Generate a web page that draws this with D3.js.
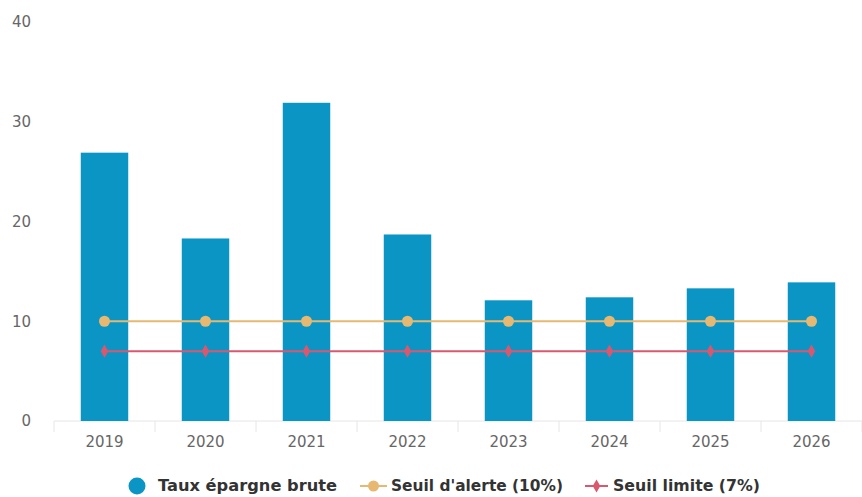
<!DOCTYPE html>
<html><head><meta charset="utf-8">
<script src="https://cdn.jsdelivr.net/npm/d3@7"></script>
<style>body{margin:0;background:#fff;} svg{display:block;}</style>
</head><body>
<svg id="chart" width="862" height="497"></svg>
<script>
const years = ["2019","2020","2021","2022","2023","2024","2025","2026"];
const tauxEpargne = [26.9, 18.3, 31.9, 18.7, 12.1, 12.4, 13.3, 13.9];
const seuilAlerte = [10, 10, 10, 10, 10, 10, 10, 10];
const seuilLimite = [7, 7, 7, 7, 7, 7, 7, 7];
const yTicks = [0, 10, 20, 30, 40];
const seriesNames = ["Taux épargne brute", "Seuil d'alerte (10%)", "Seuil limite (7%)"];
const colors = ["#0b95c5", "#e6b872", "#d9586f"];

const svg = d3.select("#chart");
const x = d3.scaleBand().domain(years).range([54, 862]).paddingInner(0.53).paddingOuter(0.265);
const y = d3.scaleLinear().domain([0, 40]).range([421, 22]);

// y labels
svg.append("g").selectAll("text").data(yTicks).join("text")
  .attr("x", 31).attr("y", d => y(d)).attr("dy", "0.35em")
  .attr("text-anchor", "end")
  .attr("font-family", "DejaVu Sans").attr("font-size", 15).attr("fill", "#666")
  .text(d => d);

// x axis
const step = x.step();
const xAxis = svg.append("g").attr("transform", "translate(0,421)");
xAxis.append("line").attr("x1", 54).attr("x2", 862).attr("stroke", "#e6e6e6").attr("stroke-width", 1);
xAxis.selectAll("line.tick").data(years.concat(["end"])).join("line").attr("class","tick")
  .attr("x1", (d,i) => 54 + i*step).attr("x2", (d,i) => 54 + i*step)
  .attr("y1", 0).attr("y2", 11).attr("stroke", "#e6e6e6");
xAxis.selectAll("text").data(years).join("text")
  .attr("x", d => x(d) + x.bandwidth()/2).attr("y", 21).attr("dy", "0.35em")
  .attr("text-anchor", "middle")
  .attr("font-family", "DejaVu Sans").attr("font-size", 15).attr("fill", "#666")
  .text(d => d);

// bars
svg.append("g").selectAll("rect").data(tauxEpargne).join("rect")
  .attr("x", (d,i) => x(years[i])).attr("width", x.bandwidth())
  .attr("y", d => y(d)).attr("height", d => y(0) - y(d))
  .attr("fill", colors[0]);

const cx = i => x(years[i]) + x.bandwidth()/2;
const line = d3.line().x((d,i) => cx(i)).y(d => y(d));

// alert line
svg.append("path").datum(seuilAlerte).attr("d", line).attr("fill","none")
  .attr("stroke", colors[1]).attr("stroke-width", 2);
svg.append("g").selectAll("circle").data(seuilAlerte).join("circle")
  .attr("cx", (d,i) => cx(i)).attr("cy", d => y(d)).attr("r", 5.5).attr("fill", colors[1]);

// limit line
svg.append("path").datum(seuilLimite).attr("d", line).attr("fill","none")
  .attr("stroke", colors[2]).attr("stroke-width", 2);
const diamond = d3.symbol().type(d3.symbolDiamond).size(50);
svg.append("g").selectAll("path").data(seuilLimite).join("path")
  .attr("transform", (d,i) => `translate(${cx(i)},${y(d)})`)
  .attr("d", diamond).attr("fill", colors[2]);

// legend
const leg = svg.append("g").attr("font-family", "DejaVu Sans").attr("font-weight", "bold")
  .attr("font-size", 15).attr("fill", "#333");
const ly = 486;
leg.append("circle").attr("cx", 137).attr("cy", ly).attr("r", 8.5).attr("fill", colors[0]);
leg.append("text").attr("x", 158).attr("y", ly).attr("dy", "0.35em")
  .attr("textLength", 179).attr("lengthAdjust", "spacingAndGlyphs").text(seriesNames[0]);

leg.append("line").attr("x1", 360).attr("x2", 387).attr("y1", ly).attr("y2", ly).attr("stroke", colors[1]).attr("stroke-width", 2);
leg.append("circle").attr("cx", 373.5).attr("cy", ly).attr("r", 5.5).attr("fill", colors[1]);
leg.append("text").attr("x", 391).attr("y", ly).attr("dy", "0.35em")
  .attr("textLength", 172).attr("lengthAdjust", "spacingAndGlyphs").text(seriesNames[1]);

leg.append("line").attr("x1", 585).attr("x2", 608).attr("y1", ly).attr("y2", ly).attr("stroke", colors[2]).attr("stroke-width", 2);
leg.append("path").attr("transform", `translate(596.5,${ly})`).attr("d", diamond).attr("fill", colors[2]);
leg.append("text").attr("x", 613).attr("y", ly).attr("dy", "0.35em")
  .attr("textLength", 147).attr("lengthAdjust", "spacingAndGlyphs").text(seriesNames[2]);
</script>
</body></html>
